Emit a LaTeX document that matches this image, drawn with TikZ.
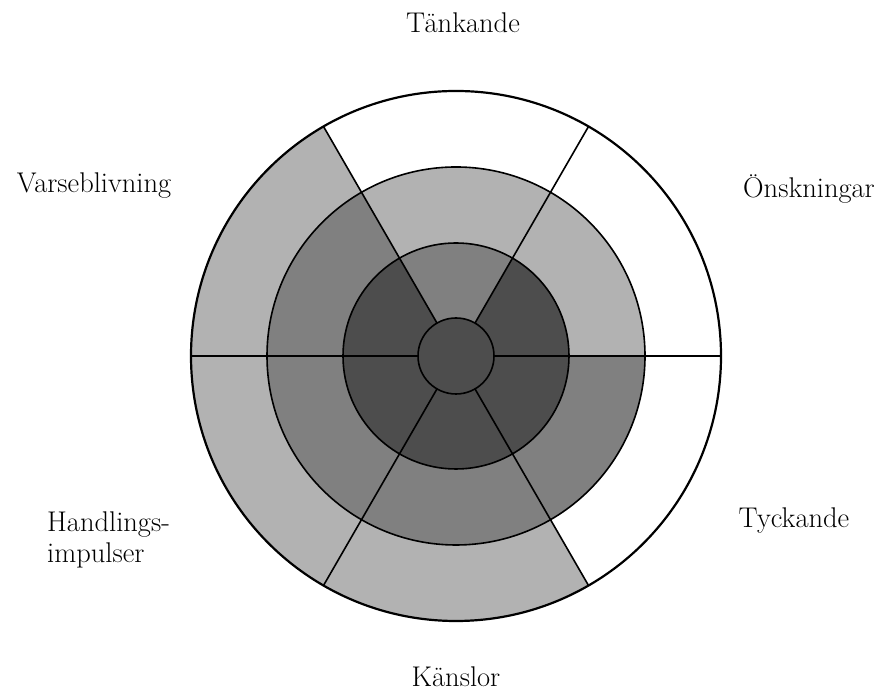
\documentclass[tikz,border=0pt]{standalone}
\usepackage{tikz}
\definecolor{LightGrey}{RGB}{178,178,178}
\definecolor{MidGrey}{RGB}{128,128,128}
\definecolor{DarkGrey}{RGB}{77,77,77}

\begin{document}
\begin{tikzpicture}[x=1pt,y=1pt,
    wheel/.style={draw=black,line width=1.6pt},
    rim/.style={draw=black,line width=2.2pt},
    lbl/.style={font=\fontsize{28.5}{31}\selectfont,inner sep=0pt,anchor=base}]
  \useasboundingbox (0,0) rectangle (881,695);
  \coordinate (c) at (456,339);
  % sectors: start angle / outer / middle / inner ring fill
  \foreach \a/\outer/\middle/\inner in {0/white/LightGrey/DarkGrey,
      60/white/LightGrey/MidGrey, 120/LightGrey/MidGrey/DarkGrey,
      180/LightGrey/MidGrey/DarkGrey, 240/LightGrey/MidGrey/DarkGrey,
      300/white/MidGrey/DarkGrey}{
    \fill[\outer] (c) -- ++(\a:265) arc[start angle=\a,end angle=\a+60,radius=265] -- cycle;
    \fill[\middle] (c) -- ++(\a:189) arc[start angle=\a,end angle=\a+60,radius=189] -- cycle;
    \fill[\inner] (c) -- ++(\a:113) arc[start angle=\a,end angle=\a+60,radius=113] -- cycle;
  }
  \fill[DarkGrey] (c) circle[radius=38];
  % spokes and rings
  \foreach \a in {0,60,...,300}
    \draw[wheel] (c) ++(\a:38) -- ++(\a:227);
  \draw[wheel] (c) circle[radius=38] circle[radius=113] circle[radius=189];
  \draw[rim] (c) circle[radius=265];
  % labels
  \node[lbl] (tank) at (463,662) {Tänkande};
  \node[lbl] (onsk) at (809,497) {Önskningar};
  \node[lbl] (tyck) at (794,167) {Tyckande};
  \node[lbl] (kans) at (456,8) {Känslor};
  \node[lbl,anchor=base west,align=left] (hand) at (47,132) {Handlings-\\impulser};
  \node[lbl] (vars) at (94,502) {Varseblivning};
\end{tikzpicture}
\end{document}
